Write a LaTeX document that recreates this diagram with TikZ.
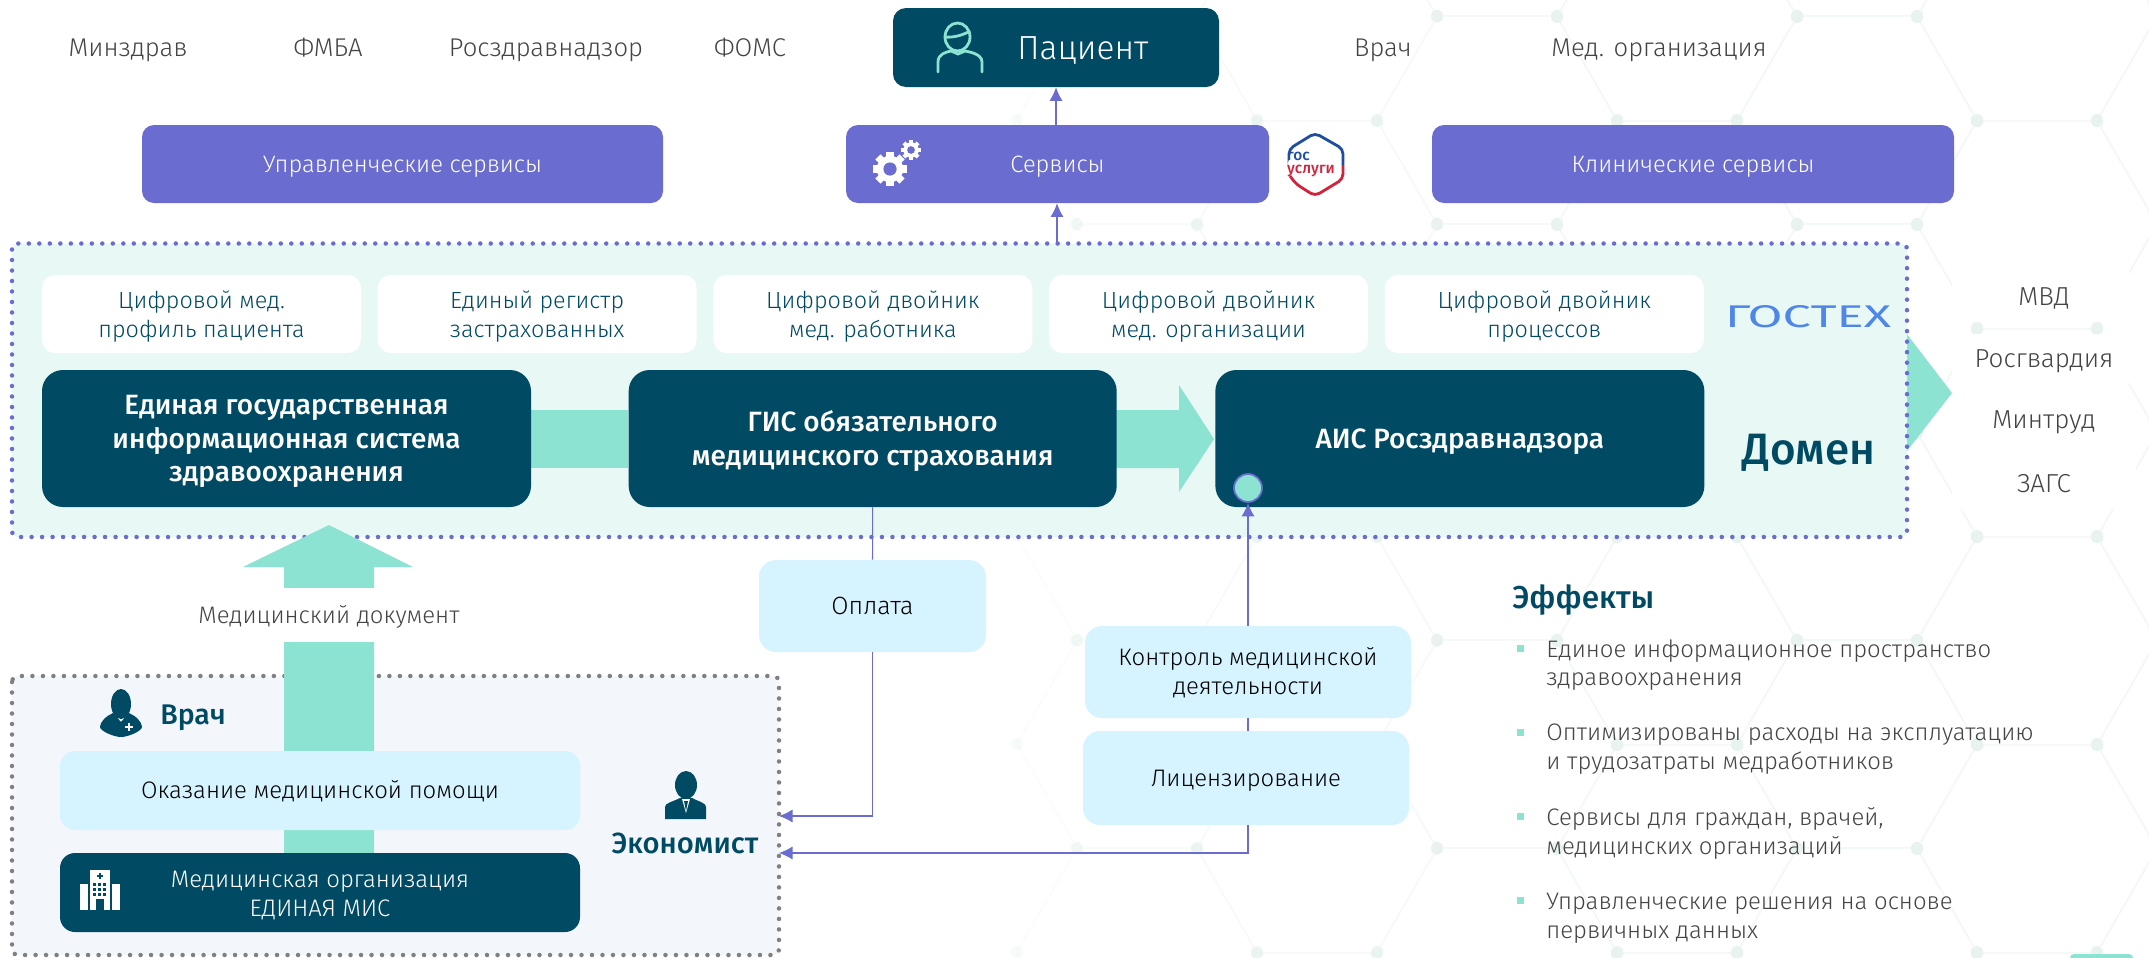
\documentclass[tikz,border=0pt]{standalone}
\usepackage{fontspec}
\setmainfont{Fira Sans}[UprightFont=* Light,BoldFont=* Medium]
\usetikzlibrary{positioning,arrows.meta}

\definecolor{tumma}{HTML}{004A63}
\definecolor{violetti}{HTML}{6A6CCF}
\definecolor{vihrea}{HTML}{8CE3D1}
\definecolor{domeeni}{HTML}{E8F8F5}
\definecolor{vaalea}{HTML}{D6F4FF}
\definecolor{harmaa}{HTML}{444444}
\definecolor{kenno}{HTML}{F3F8F6}
\definecolor{kennosolmu}{HTML}{E8F3F0}
\definecolor{alaruutu}{HTML}{F3F6FB}
\definecolor{tekblue}{HTML}{4F86E8}
\definecolor{gosblue}{HTML}{1F4E9E}
\definecolor{gosred}{HTML}{D2233C}

\newcommand{\fs}[1]{\fontsize{#1}{16.4}\selectfont}
\newcommand{\fb}[2]{\fontsize{#1}{#2}\selectfont}
\newcommand{\up}{\rule{0pt}{0.94em}}

\tikzset{
  size/.style 2 args={minimum width=#1*0.02cm,minimum height=#2*0.02cm,inner sep=0pt,align=center},
  lift/.style={execute at begin node=\rule[\dimexpr -#1pt*25/100\relax]{0pt}{\dimexpr #1pt*119/100\relax}},
  lift/.default=13.6,
  darkbox/.style={rectangle,rounded corners=0.42cm,fill=tumma,text=white},
  servbox/.style={rectangle,rounded corners=0.24cm,fill=violetti,text=white,font=\fs{13.5},lift},
  whitebox/.style={rectangle,rounded corners=0.26cm,fill=white,text=tumma,size={319}{78},font=\fs{13.3}},
  bluebox/.style={rectangle,rounded corners=0.34cm,fill=vaalea,text=black,font=\fs{13.6},lift},
  sidebox/.style={rectangle,rounded corners=0.2cm,fill=white,text=harmaa,size={184}{50},font=\fs{14.8},lift=14.8},
  toplabel/.style={text=harmaa,font=\fs{14.6},inner sep=0pt,lift=14.6},
  effect/.style={text=harmaa,align=left,anchor=west,inner sep=0pt,font=\fs{13.6}},
  bullet/.style={fill=vihrea,minimum size=0.14cm,inner sep=0pt},
  mainbox/.style={darkbox,font=\bfseries\fb{15.9}{19.2},lift=15.9},
  dotted box/.style={line width=0.09cm,line cap=round,dash pattern=on 0pt off 0.21cm,rounded corners=0.12cm},
  link/.style={color=violetti,line width=0.6pt},
  arrowlink/.style={link,-{Latex[length=0.27cm,width=0.26cm]}},
}

\begin{document}
\begin{tikzpicture}[x=0.02cm,y=-0.02cm]
\useasboundingbox (0,0) rectangle (2149,957);
\fill[white] (0,0) rectangle (2149,957);

% background mesh
\foreach \i/\op in {-4/0.35,-3/0.5,-2/0.7,-1/1,0/1,1/1,2/1} {
  \foreach \j in {-1,...,5} {
    \pgfmathsetmacro{\cx}{1857+180*\i}
    \pgfmathsetmacro{\cy}{120+208*\j+(mod(abs(\i),2)==1 ? 105 : 0)}
    \draw[kenno,line width=0.7pt,opacity=\op] (\cx-120,\cy) -- (\cx-60,\cy-104) -- (\cx+60,\cy-104)
      -- (\cx+120,\cy) -- (\cx+60,\cy+104) -- (\cx-60,\cy+104) -- cycle;
    \foreach \a/\b in {-60/-104,60/-104,120/0,60/104,-60/104,-120/0}
      \fill[kennosolmu,opacity=\op] (\cx+\a,\cy+\b) circle (6);
  }
}
\fill[vihrea,rounded corners=0.08cm] (2070,954) rectangle (2133,970);

% top row
\node[toplabel] (MZ) at (128,48) {Минздрав};
\node[toplabel] (FMBA) at (328,48) {ФМБА};
\node[toplabel] (RZN) at (546,48) {Росздравнадзор};
\node[toplabel] (FOMS) at (750,48) {ФОМС};
\node[darkbox,size={326}{79},rounded corners=0.26cm] (PAC) at (1056,47.5) {};
\node[text=white,font=\fs{19},inner sep=0pt,lift=19] (PACT) at (1083,48) {Пациент};
\node[toplabel] (VR) at (1383,48) {Врач};
\node[toplabel] (MO) at (1659,48) {Мед. организация};

% services
\node[servbox,size={521}{78}] (US) at (402.5,164) {Управленческие сервисы};
\node[servbox,size={423}{78}] (SE) at (1057.5,164) {Сервисы};
\node[servbox,size={522}{78}] (KS) at (1693,164) {Клинические сервисы};

% domain
\fill[vihrea] (1900,325) -- (1952,393) -- (1900,460) -- cycle;
\draw[violetti,fill=domeeni,dotted box] (12,243.5) rectangle (1907,537);
\coordinate (DT) at (1057,243.5);

\node[whitebox] (W1) at (201.5,314) {\up Цифровой мед.\\профиль пациента};
\node[whitebox,right=0.32cm of W1] (W2) {\up Единый регистр\\застрахованных};
\node[whitebox,right=0.32cm of W2] (W3) {\up Цифровой двойник\\мед. работника};
\node[whitebox,right=0.32cm of W3] (W4) {\up Цифровой двойник\\мед. организации};
\node[whitebox,right=0.32cm of W4] (W5) {\up Цифровой двойник\\процессов};

\node[text=tekblue,inner sep=0pt] (GT) at (1808,317) {\resizebox{3.32cm}{0.44cm}{\fontspec{Fira Sans}ГОСТЕХ}};
\node[text=tumma,font=\bfseries\fs{25},inner sep=0pt,lift=25] (DOM) at (1809,449) {Домен};

% main boxes and green arrows
\fill[vihrea] (531,410) rectangle (628,468);
\fill[vihrea] (1116,410) -- (1179,410) -- (1179,385) -- (1214,439) -- (1179,492) -- (1179,468) -- (1116,468) -- cycle;
\node[mainbox,size={489}{137}] (EG) at (286.5,438.5)
  {\up Единая государственная\\информационная система\\здравоохранения};
\node[mainbox,size={488}{137},right=1.94cm of EG] (GIS)
  {\up ГИС обязательного\\медицинского страхования};
\node[mainbox,size={489}{137},right=1.96cm of GIS] (AIS) {АИС Росздравнадзора};
\node[circle,fill=vihrea,draw=violetti,line width=1pt,minimum size=0.56cm,inner sep=0pt] (DOT) at (1248,488) {};

% right side
\node[sidebox] (MVD) at (2044,297) {МВД};
\node[sidebox] (RG) at (2044,359) {Росгвардия};
\node[sidebox] (MT) at (2044,420) {Минтруд};
\node[sidebox] (ZAGS) at (2044,484) {ЗАГС};

% lower box
\draw[gray,fill=alaruutu,dotted box] (12,676) rectangle (779,955);

% document arrow
\fill[vihrea] (329,525) -- (413,567) -- (374,567) -- (374,853) -- (284,853) -- (284,567) -- (243,567) -- cycle;
\node[fill=white,minimum width=5.6cm,minimum height=1.08cm,inner sep=0pt,text=harmaa,font=\fs{13.6},lift] (DOC) at (329,615) {Медицинский документ};

\node[text=tumma,font=\bfseries\fs{16.2},inner sep=0pt,lift=16.2] (VRT) at (193,715) {Врач};
\node[bluebox,size={520}{79},rounded corners=0.3cm] (OMP) at (320,790.5) {Оказание медицинской помощи};
\node[darkbox,size={520}{79},rounded corners=0.3cm,font=\fs{13.6}] (MIS) at (320,892.5) {\up Медицинская организация\\ЕДИНАЯ МИС};
\node[text=tumma,font=\bfseries\fs{16.6},inner sep=0pt,lift=16.6] (ECO) at (685,843) {Экономист};

% boxes on the connectors
\node[bluebox,size={227}{92},font=\fs{14.2}] (PAY) at (872.5,606) {Оплата};
\node[bluebox,size={326}{92}] (CTRL) at (1248,672) {\up Контроль медицинской\\деятельности};
\node[bluebox,size={326}{94}] (LIC) at (1246,778) {Лицензирование};
\coordinate (E1) at (779,816);
\coordinate (E2) at (779,853);

% effects
\node[text=tumma,font=\bfseries\fs{18},anchor=west,inner sep=0pt,lift=18] (EF) at (1512,598) {Эффекты};
\node[bullet] (B1) at (1520.5,648) {};
\node[bullet] (B2) at (1520.5,732) {};
\node[bullet] (B3) at (1520.5,816) {};
\node[bullet] (B4) at (1520.5,900) {};
\node[effect] (T1) at (1546,665) {Единое информационное пространство\\здравоохранения};
\node[effect] (T2) at (1546,749.5) {Оптимизированы расходы на эксплуатацию\\и трудозатраты медработников};
\node[effect] (T3) at (1546,833.5) {Сервисы для граждан, врачей,\\медицинских организаций};
\node[effect] (T4) at (1546,918) {Управленческие решения на основе\\первичных данных};

% connectors
\draw[arrowlink] (SE.north -| PAC) -- (PAC.south);
\draw[arrowlink] (DT) -- (DT |- SE.south);
\draw[link] (GIS.south) -- (PAY.north);
\draw[arrowlink] (PAY.south) |- (E1);
\draw[arrowlink] (LIC.south -| DOT) |- (E2);
\draw[link] (LIC.north -| DOT) -- (CTRL.south -| DOT);
\draw[arrowlink] (CTRL.north) -- (DOT.south);

% patient icon
\begin{scope}[shift={(960,46)},line width=1.6pt]
  \draw[vihrea] (-2.5,-9) ellipse (12.5 and 14);
  \draw[vihrea] (-15,-9) .. controls (-5,-8) and (5,-12) .. (10,-15);
  \draw[vihrea,line cap=round] (-22,26) -- (-22,16) .. controls (-22,8) and (-14,6) .. (-9,5) -- (-2,8) -- (5,5) .. controls (10,6) and (22,8) .. (22,16) -- (22,26);
\end{scope}

% gears
\foreach \gx/\gy/\gr in {890/169/12,911/150/7} {
  \foreach \a in {0,45,...,315}
    \fill[white,rotate around={\a:(\gx,\gy)}] (\gx-0.3*\gr,\gy-\gr*1.42) rectangle (\gx+0.3*\gr,\gy);
  \fill[white] (\gx,\gy) circle (\gr*1.1);
  \fill[violetti] (\gx,\gy) circle (\gr*0.55);
}

% gosuslugi logo
\draw[gosblue,line width=1.6pt,rounded corners=0.1cm] (1289,153) -- (1289,149) -- (1315,133) -- (1343,149) -- (1343,165);
\draw[gosred,line width=1.6pt,rounded corners=0.1cm] (1343,165) -- (1343,179) -- (1315,196) -- (1296,184) -- (1290,176);
\node[inner sep=0pt,align=left,font=\bfseries\fb{8.8}{7.4}] (GOS) at (1311,164) {\textcolor{gosblue}{гос}\\\textcolor{gosred}{услуги}};

% doctor icon
\fill[tumma] (121,704) ellipse (10 and 15);
\fill[tumma] (113,713) -- (121,722) -- (129,713) .. controls (136,716) and (142,722) .. (142,727) .. controls (142,731) and (128,737) .. (121,737) .. controls (114,737) and (100,731) .. (100,727) .. controls (100,722) and (106,716) .. (113,713) -- cycle;
\draw[white,line width=1pt] (129,723) -- (129,731) (125,727) -- (133,727);

% economist icon
\fill[tumma] (686,785) ellipse (11 and 14);
\fill[tumma] (665,819) -- (665,807) .. controls (665,803) and (672,802) .. (680,798) -- (692,798) .. controls (700,802) and (706,803) .. (706,807) -- (706,819) -- cycle;
\fill[white] (682,799) -- (690,799) -- (686,813) -- cycle;
\fill[tumma] (684,801) -- (688,801) -- (686,811) -- cycle;

% hospital icon
\fill[white] (90,870) rectangle (110,910);
\fill[white] (80,884) rectangle (88,910);
\fill[white] (112,884) rectangle (120,910);
\draw[tumma,line width=0.8pt] (100,873) -- (100,879) (97,876) -- (103,876);
\fill[tumma] (96,899) rectangle (104,910);
\foreach \hx in {93,98,103} \foreach \hy in {883,888,893} \fill[tumma] (\hx,\hy) rectangle +(2.5,2.5);

\end{tikzpicture}
\end{document}
